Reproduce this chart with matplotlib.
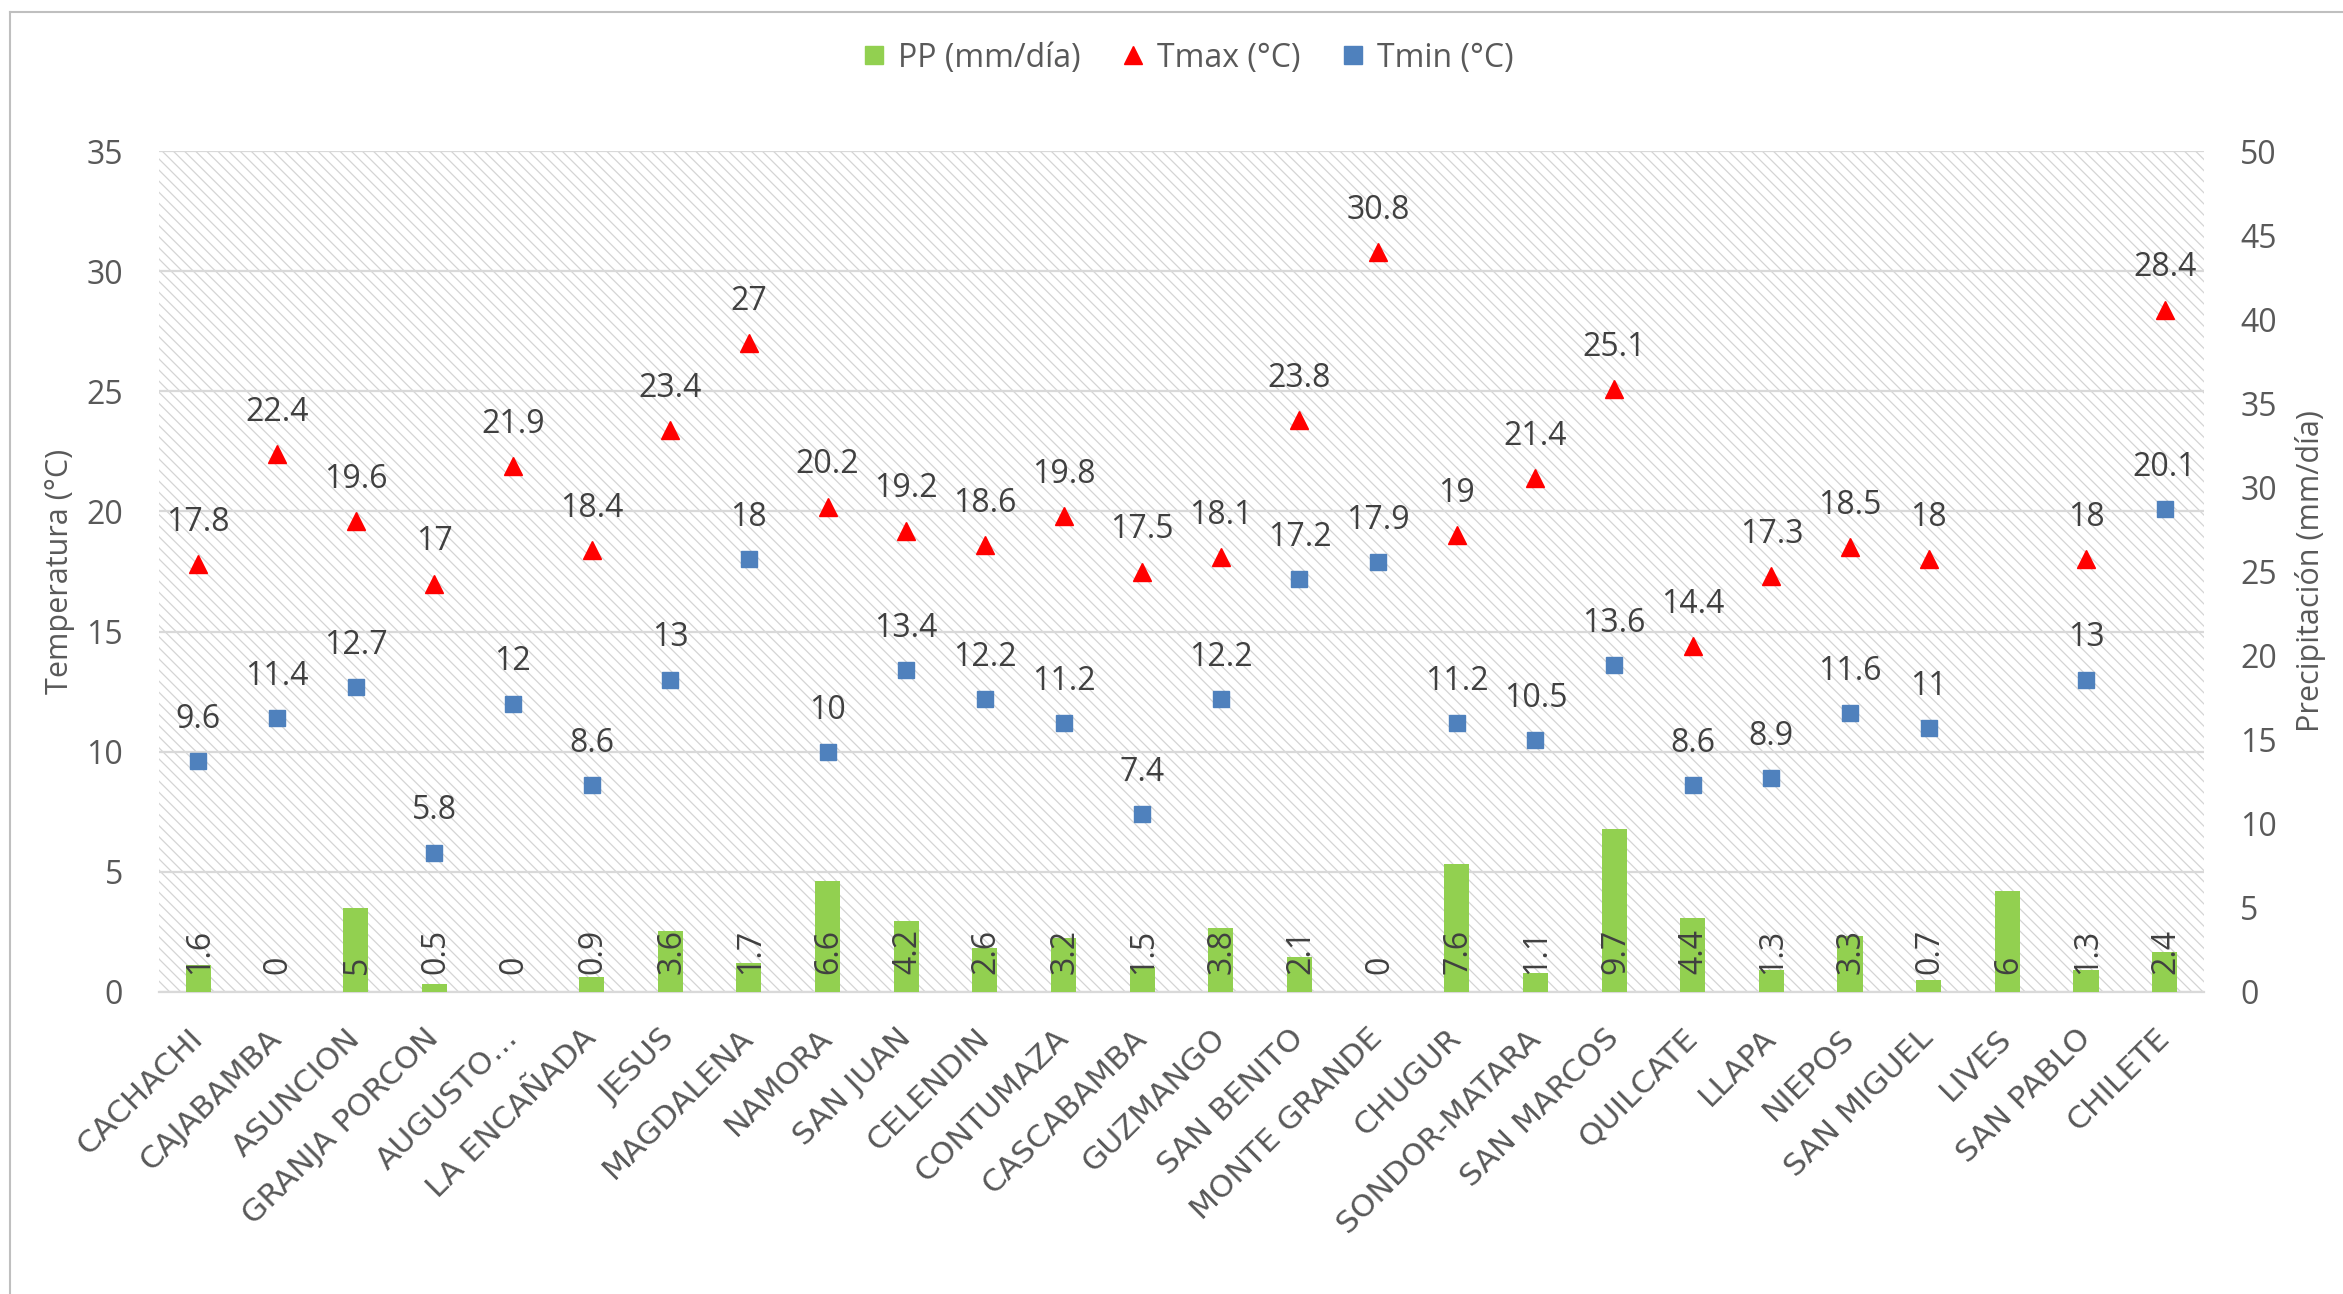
import numpy as np
import matplotlib
matplotlib.use("Agg")
import matplotlib.pyplot as plt
from matplotlib.lines import Line2D
from matplotlib.patches import Rectangle

plt.rcParams['font.family'] = ['Open Sans', 'DejaVu Sans']
plt.rcParams['hatch.color'] = '#d4d4d4'
plt.rcParams['hatch.linewidth'] = 0.9

# data
estaciones = ["CACHACHI", "CAJABAMBA", "ASUNCION", "GRANJA PORCON", "AUGUSTO\u2026",
              "LA ENCAÑADA", "JESUS", "MAGDALENA", "NAMORA", "SAN JUAN", "CELENDIN",
              "CONTUMAZA", "CASCABAMBA", "GUZMANGO", "SAN BENITO", "MONTE GRANDE",
              "CHUGUR", "SONDOR-MATARA", "SAN MARCOS", "QUILCATE", "LLAPA", "NIEPOS",
              "SAN MIGUEL", "LIVES", "SAN PABLO", "CHILETE"]
pp = [1.6, 0, 5, 0.5, 0, 0.9, 3.6, 1.7, 6.6, 4.2, 2.6, 3.2, 1.5, 3.8, 2.1, 0,
      7.6, 1.1, 9.7, 4.4, 1.3, 3.3, 0.7, 6, 1.3, 2.4]
tmax = [17.8, 22.4, 19.6, 17, 21.9, 18.4, 23.4, 27, 20.2, 19.2, 18.6, 19.8, 17.5,
        18.1, 23.8, 30.8, 19, 21.4, 25.1, 14.4, 17.3, 18.5, 18, None, 18, 28.4]
tmin = [9.6, 11.4, 12.7, 5.8, 12, 8.6, 13, 18, 10, 13.4, 12.2, 11.2, 7.4, 12.2,
        17.2, 17.9, 11.2, 10.5, 13.6, 8.6, 8.9, 11.6, 11, None, 13, 20.1]

W, H = 2343, 1294
fig = plt.figure(figsize=(W / 100, H / 100), dpi=100)
ax = fig.add_axes([159 / W, 1 - 992 / H, (2204 - 159) / W, (992 - 151) / H])
ax2 = ax.twinx()

txt = '#595959'
lab = '#404040'
grid = '#d9d9d9'
x = np.arange(len(estaciones))

# hatched plot area
ax.add_patch(Rectangle((0, 0), 1, 1, transform=ax.transAxes, facecolor='white',
                       edgecolor='#d4d4d4', linewidth=0, hatch='\\\\\\', zorder=0))

ax.set_ylim(0, 35)
ax.set_yticks(np.arange(0, 36, 5))
ax.set_xlim(-0.5, len(estaciones) - 0.5)
ax.set_axisbelow(True)
ax.yaxis.grid(True, color=grid, linewidth=1.6)
for s in ['top', 'left', 'right']:
    ax.spines[s].set_visible(False)
ax.spines['bottom'].set_color(grid)
ax.spines['bottom'].set_linewidth(1.6)
ax.tick_params(axis='y', length=0, pad=26, labelsize=23, labelcolor=txt)
ax.tick_params(axis='x', length=0, pad=30, labelcolor=txt)
ax.set_xticks(x)
ax.set_xticklabels(estaciones, rotation=45, ha='right', va='center',
                   rotation_mode='anchor', fontfamily='DejaVu Sans',
                   fontsize=22.5)

# temperatures
xs_max = [i for i, v in enumerate(tmax) if v is not None]
ys_max = [tmax[i] for i in xs_max]
xs_min = [i for i, v in enumerate(tmin) if v is not None]
ys_min = [tmin[i] for i in xs_min]
ax.plot(xs_max, ys_max, linestyle='none', marker='^', markersize=13,
        color='#ff0000', zorder=3)
ax.plot(xs_min, ys_min, linestyle='none', marker='s', markersize=12,
        color='#4f81bd', zorder=3)
for i, v in zip(xs_max, ys_max):
    ax.annotate(f"{v:g}", (i, v), xytext=(0, 30), textcoords='offset points',
                ha='center', va='center', fontsize=23, color=lab)
for i, v in zip(xs_min, ys_min):
    ax.annotate(f"{v:g}", (i, v), xytext=(0, 30), textcoords='offset points',
                ha='center', va='center', fontsize=23, color=lab)

# precipitation bars
ax2.bar(x, pp, width=0.32, color='#92d050', zorder=2)
for i, v in enumerate(pp):
    ax2.annotate(f"{v:g}", (i, 0), xytext=(1, 13), textcoords='offset points',
                 ha='center', va='bottom', rotation=90, fontsize=23, color=lab)
ax2.set_ylim(0, 50)
ax2.set_yticks(np.arange(0, 51, 5))
for s in ax2.spines.values():
    s.set_visible(False)
ax2.tick_params(axis='y', length=0, pad=26, labelsize=23, labelcolor=txt)

fig.text(60 / W, 1 - 571 / H, "Temperatura (°C)", rotation=90, ha='center',
         va='center', fontsize=22, color=txt)
fig.text(2310 / W, 1 - 571 / H, "Precipitación (mm/día)", rotation=90,
         ha='center', va='center', fontsize=22, color=txt)

handles = [
    Line2D([], [], linestyle='none', marker='s', markersize=13, color='#92d050'),
    Line2D([], [], linestyle='none', marker='^', markersize=13, color='#ff0000'),
    Line2D([], [], linestyle='none', marker='s', markersize=13, color='#4f81bd'),
]
fig.legend(handles, ["PP (mm/día)", "Tmax (°C)", "Tmin (°C)"], loc='center',
           bbox_to_anchor=(1188 / W, 1 - 58 / H), ncol=3, frameon=False,
           fontsize=23, labelcolor=txt, handlelength=0.7, handletextpad=0.4,
           columnspacing=1.3)

# chart border
fig.add_artist(Line2D([10 / W, 1], [1 - 12 / H, 1 - 12 / H], color='#bfbfbf',
                      linewidth=1.5))
fig.add_artist(Line2D([10 / W, 10 / W], [0, 1 - 12 / H], color='#bfbfbf',
                      linewidth=1.5))

fig.savefig("out.png", dpi=100)
